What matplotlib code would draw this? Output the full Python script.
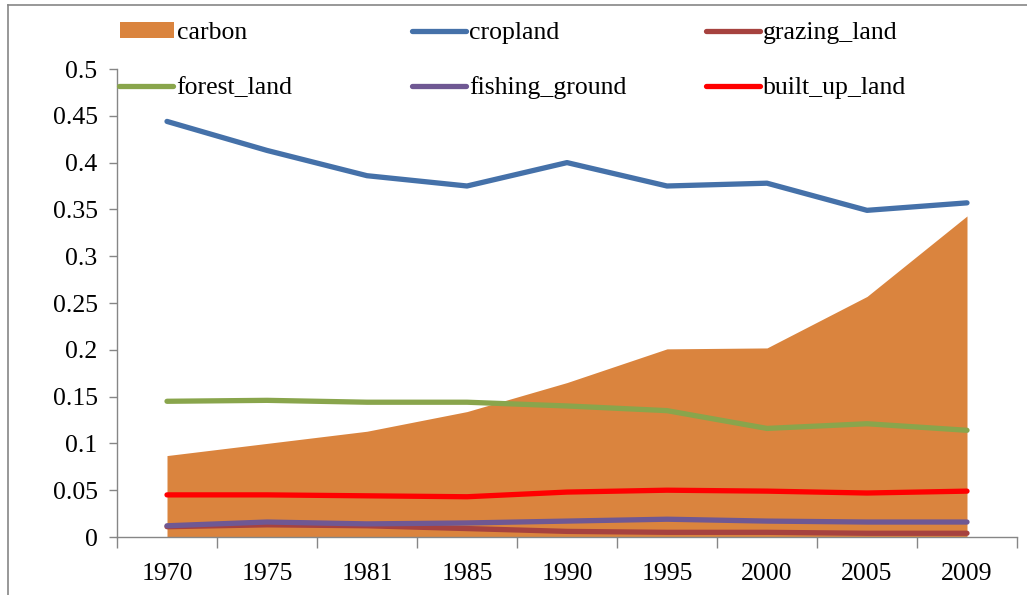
import matplotlib
matplotlib.use("Agg")
import matplotlib.pyplot as plt
from matplotlib.lines import Line2D
from matplotlib.patches import Patch
import numpy as np

years = ["1970", "1975", "1981", "1985", "1990", "1995", "2000", "2005", "2009"]
carbon = [0.087, 0.100, 0.113, 0.134, 0.165, 0.201, 0.202, 0.257, 0.343]
cropland = [0.444, 0.413, 0.386, 0.375, 0.400, 0.375, 0.378, 0.349, 0.357]
grazing_land = [0.011, 0.013, 0.012, 0.009, 0.006, 0.005, 0.005, 0.004, 0.004]
forest_land = [0.145, 0.146, 0.144, 0.144, 0.140, 0.135, 0.116, 0.121, 0.114]
fishing_ground = [0.012, 0.016, 0.014, 0.015, 0.017, 0.019, 0.017, 0.016, 0.016]
built_up_land = [0.045, 0.045, 0.044, 0.043, 0.048, 0.050, 0.049, 0.047, 0.049]

plt.rcParams['font.family'] = ['Liberation Serif', 'DejaVu Serif']
W, H = 1027, 595
FS = 18.5
fig = plt.figure(figsize=(W/100, H/100), dpi=100)
ax = fig.add_axes([117/W, 1-537/H, 900/W, 468/H])

x = np.arange(len(years))
c_carbon = '#DA843E'
c_crop = '#4571A9'
c_graz = '#A6423F'
c_forest = '#89A54C'
c_fish = '#6F5893'
c_built = '#FF0000'
lw = 3.8
kw = dict(lw=lw, solid_capstyle='round', solid_joinstyle='round')

ax.fill_between(x, 0, carbon, color=c_carbon, linewidth=0, zorder=1)
ax.plot(x, cropland, color=c_crop, zorder=3, **kw)
ax.plot(x, grazing_land, color=c_graz, zorder=3, **kw)
ax.plot(x, forest_land, color=c_forest, zorder=3, **kw)
ax.plot(x, fishing_ground, color=c_fish, zorder=4, **kw)
ax.plot(x, built_up_land, color=c_built, zorder=3, **kw)

ax.set_xlim(-0.5, len(years)-0.5)
ax.set_ylim(0, 0.5)
ax.set_yticks(np.arange(0, 0.501, 0.05))
ax.set_yticklabels(['0', '0.05', '0.1', '0.15', '0.2', '0.25', '0.3', '0.35', '0.4', '0.45', '0.5'])
ax.set_xticks(x)
ax.set_xticklabels(years)
ax.set_xticks(np.arange(-0.5, len(years), 1.0), minor=True)
ax.tick_params(axis='x', which='major', length=0, pad=19, labelsize=FS)
ax.tick_params(axis='x', which='minor', length=8, color='#868686', width=1, direction='out')
ax.tick_params(axis='y', which='major', length=6, color='#868686', width=1, direction='out', pad=8, labelsize=FS)
for s in ['top', 'right']:
    ax.spines[s].set_visible(False)
for s in ['left', 'bottom']:
    ax.spines[s].set_color('#868686')
    ax.spines[s].set_linewidth(1)

entries = [
    (Patch(facecolor=c_carbon, edgecolor='none'), 'carbon', 120, 33),
    (Line2D([], [], color=c_crop, **kw), 'cropland', 412, 33),
    (Line2D([], [], color=c_graz, **kw), 'grazing_land', 706, 33),
    (Line2D([], [], color=c_forest, **kw), 'forest_land', 119, 88),
    (Line2D([], [], color=c_fish, **kw), 'fishing_ground', 412, 88),
    (Line2D([], [], color=c_built, **kw), 'built_up_land', 706, 88),
]
for h, lab, px, py in entries:
    fig.legend(handles=[h], labels=[lab], loc='center left', bbox_to_anchor=(px/W, 1-py/H),
               frameon=False, fontsize=FS, handlelength=2.1, handleheight=0.55,
               handletextpad=0.12, borderpad=0, borderaxespad=0)

# outer chart border
fig.add_artist(Line2D([8/W, 8/W], [0, 1-5/H], color='#868686', lw=1.2, transform=fig.transFigure))
fig.add_artist(Line2D([8/W, 1], [1-5/H, 1-5/H], color='#868686', lw=1.2, transform=fig.transFigure))

fig.savefig('out.png', dpi=100)
